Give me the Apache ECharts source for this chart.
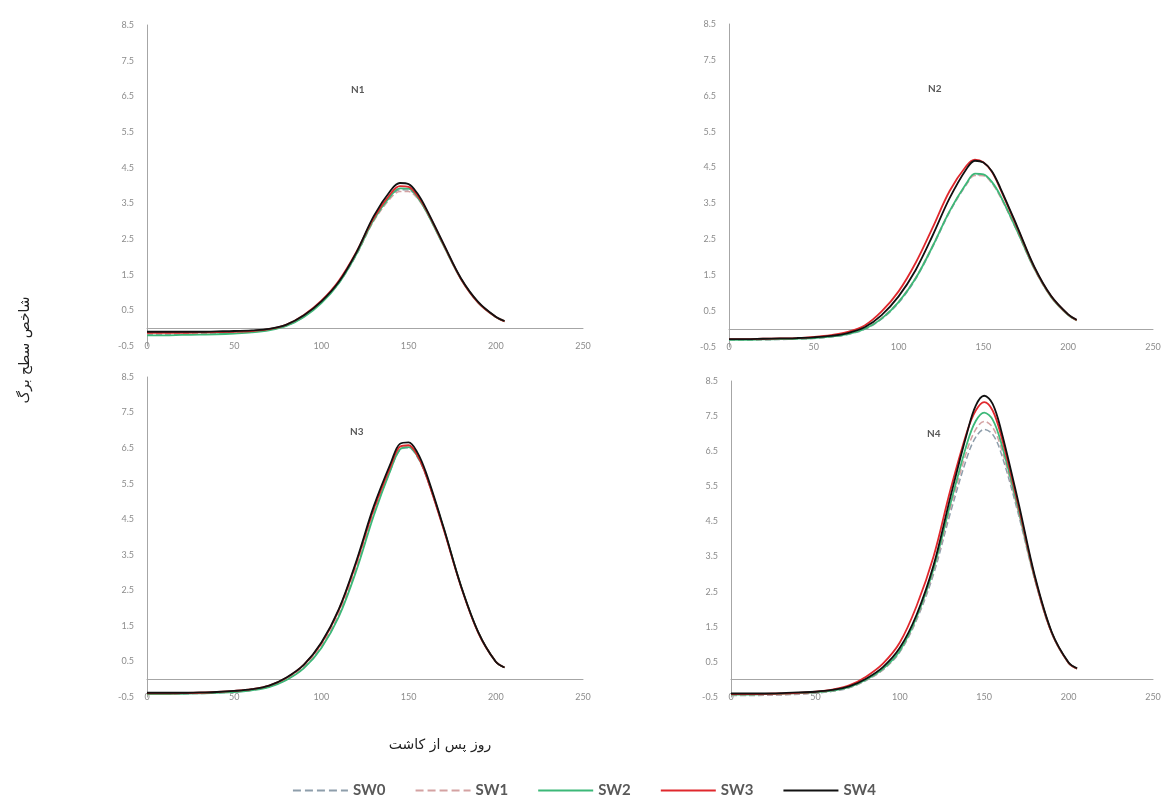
<!DOCTYPE html>
<html>
<head>
<meta charset="utf-8">
<script src="https://cdn.jsdelivr.net/npm/echarts@6/dist/echarts.min.js"></script>
<style>
html,body{margin:0;padding:0;background:#fff;}
#chart{width:1168px;height:810px;}
</style>
</head>
<body>
<div id="chart"></div>
<script>
// Days after sowing
const days = [0,10,20,30,40,50,60,70,80,90,100,110,120,130,140,145,150,155,160,170,180,190,200,205];
const seriesNames = ['SW0','SW1','SW2','SW3','SW4'];
const panelNames = ['N1','N2','N3','N4'];
const xTicks = [0,50,100,150,200,250];
const yTickLabels = ['-0.5','0.5','1.5','2.5','3.5','4.5','5.5','6.5','7.5','8.5'];

// N1
const N1_SW0 = [-0.17,-0.17,-0.17,-0.16,-0.15,-0.13,-0.10,-0.05,0.07,0.32,0.72,1.26,2.05,3.02,3.70,3.88,3.87,3.66,3.28,2.32,1.38,0.72,0.32,0.20];
const N1_SW1 = [-0.15,-0.15,-0.15,-0.14,-0.13,-0.12,-0.09,-0.04,0.08,0.34,0.74,1.29,2.07,3.00,3.66,3.83,3.83,3.64,3.28,2.34,1.40,0.73,0.33,0.21];
const N1_SW2 = [-0.20,-0.20,-0.19,-0.18,-0.17,-0.15,-0.12,-0.06,0.06,0.31,0.70,1.26,2.07,3.04,3.73,3.92,3.91,3.68,3.29,2.32,1.38,0.71,0.31,0.19];
const N1_SW3 = [-0.13,-0.13,-0.13,-0.12,-0.11,-0.10,-0.08,-0.03,0.10,0.37,0.77,1.33,2.13,3.09,3.79,3.98,3.96,3.72,3.33,2.35,1.38,0.71,0.31,0.19];
const N1_SW4 = [-0.10,-0.10,-0.10,-0.10,-0.09,-0.08,-0.06,-0.02,0.10,0.36,0.75,1.30,2.12,3.14,3.88,4.07,4.04,3.78,3.36,2.37,1.40,0.73,0.32,0.20];
// N2
const N2_SW0 = [-0.31,-0.31,-0.30,-0.29,-0.28,-0.26,-0.22,-0.15,-0.01,0.28,0.73,1.39,2.28,3.25,4.03,4.30,4.29,4.08,3.70,2.72,1.68,0.89,0.39,0.24];
const N2_SW1 = [-0.30,-0.30,-0.29,-0.28,-0.27,-0.25,-0.21,-0.13,0.01,0.31,0.77,1.43,2.32,3.28,4.03,4.28,4.27,4.06,3.68,2.71,1.68,0.89,0.39,0.24];
const N2_SW2 = [-0.30,-0.30,-0.29,-0.28,-0.27,-0.25,-0.21,-0.14,0.00,0.29,0.75,1.41,2.30,3.28,4.06,4.33,4.31,4.10,3.72,2.73,1.69,0.89,0.39,0.24];
const N2_SW3 = [-0.28,-0.28,-0.27,-0.26,-0.25,-0.22,-0.17,-0.08,0.10,0.49,1.05,1.84,2.82,3.84,4.55,4.72,4.65,4.38,3.90,2.82,1.72,0.91,0.40,0.25];
const N2_SW4 = [-0.28,-0.28,-0.27,-0.26,-0.25,-0.23,-0.19,-0.11,0.05,0.39,0.91,1.64,2.60,3.64,4.46,4.69,4.64,4.40,3.93,2.85,1.74,0.92,0.41,0.26];
// N3
const N3_SW0 = [-0.42,-0.42,-0.41,-0.40,-0.38,-0.36,-0.31,-0.21,-0.01,0.33,0.90,1.80,3.10,4.65,5.93,6.44,6.51,6.25,5.72,4.24,2.62,1.31,0.49,0.33];
const N3_SW1 = [-0.41,-0.41,-0.40,-0.39,-0.37,-0.35,-0.30,-0.20,0.00,0.35,0.93,1.84,3.15,4.70,5.98,6.49,6.56,6.30,5.75,4.26,2.63,1.32,0.50,0.34];
const N3_SW2 = [-0.42,-0.42,-0.41,-0.40,-0.38,-0.36,-0.31,-0.22,-0.02,0.31,0.88,1.76,3.05,4.60,5.93,6.46,6.53,6.28,5.75,4.26,2.63,1.31,0.49,0.33];
const N3_SW3 = [-0.40,-0.40,-0.39,-0.38,-0.36,-0.33,-0.28,-0.18,0.04,0.41,1.01,1.95,3.27,4.78,6.03,6.54,6.58,6.30,5.74,4.23,2.61,1.30,0.49,0.33];
const N3_SW4 = [-0.38,-0.38,-0.38,-0.37,-0.36,-0.33,-0.28,-0.18,0.05,0.41,1.03,1.97,3.32,4.86,6.11,6.62,6.66,6.38,5.81,4.28,2.63,1.32,0.49,0.33];
// N4
const N4_SW0 = [-0.46,-0.46,-0.45,-0.44,-0.42,-0.39,-0.34,-0.24,-0.03,0.27,0.78,1.70,3.00,4.75,6.35,6.90,7.12,6.98,6.45,4.75,2.83,1.31,0.47,0.31];
const N4_SW1 = [-0.45,-0.45,-0.44,-0.43,-0.41,-0.38,-0.33,-0.23,-0.02,0.28,0.80,1.74,3.08,4.88,6.55,7.12,7.35,7.18,6.60,4.82,2.85,1.32,0.47,0.31];
const N4_SW2 = [-0.43,-0.43,-0.42,-0.41,-0.39,-0.37,-0.32,-0.22,-0.01,0.30,0.82,1.78,3.15,5.00,6.75,7.36,7.60,7.40,6.75,4.90,2.88,1.33,0.47,0.31];
const N4_SW3 = [-0.42,-0.42,-0.41,-0.40,-0.38,-0.35,-0.29,-0.17,0.08,0.45,1.05,2.10,3.50,5.40,7.08,7.66,7.90,7.66,6.95,5.00,2.90,1.33,0.47,0.31];
const N4_SW4 = [-0.40,-0.40,-0.40,-0.39,-0.37,-0.35,-0.30,-0.20,0.02,0.35,0.90,1.85,3.25,5.20,7.05,7.80,8.08,7.85,7.10,5.10,2.95,1.35,0.48,0.32];

const panelData = [
  [N1_SW0,N1_SW1,N1_SW2,N1_SW3,N1_SW4],
  [N2_SW0,N2_SW1,N2_SW2,N2_SW3,N2_SW4],
  [N3_SW0,N3_SW1,N3_SW2,N3_SW3,N3_SW4],
  [N4_SW0,N4_SW1,N4_SW2,N4_SW3,N4_SW4]
];

const colors = ['#8e9eab','#d4a2a2','#3cb878','#e0282d','#111111'];
const dashes = ['dashed','dashed','solid','solid','solid'];

const grids = [
  {left:147, top:25, width:436, height:321},
  {left:729, top:24, width:424, height:323},
  {left:147, top:377, width:436, height:320},
  {left:731, top:381, width:422, height:316}
];
const titlePos = [[346,80],[923,79],[345,422],[922,424]];

const tickFont = 'Lato, "Open Sans", sans-serif';
const xAxes = [], yAxes = [], series = [], titles = [];
grids.forEach((g,i)=>{
  // label axis at bottom
  xAxes.push({type:'value', gridIndex:i, min:0, max:250, interval:50,
    axisLine:{show:false, onZero:false}, axisTick:{show:false}, splitLine:{show:false},
    axisLabel:{color:'#8c8c8c', fontSize:9, fontFamily:tickFont, margin:-4}});
  // line axis crossing at zero
  xAxes.push({type:'value', gridIndex:i, min:0, max:250, interval:50,
    axisLine:{show:true, onZero:true, lineStyle:{color:'#a6a6a6', width:1}},
    axisTick:{show:false}, axisLabel:{show:false}, splitLine:{show:false}});
  yAxes.push({type:'value', gridIndex:i, min:-0.5, max:8.5, interval:0.5,
    axisLine:{show:true, onZero:false, lineStyle:{color:'#a6a6a6', width:1}},
    axisTick:{show:false}, splitLine:{show:false},
    axisLabel:{color:'#8c8c8c', fontSize:9, fontFamily:tickFont, margin:13,
      formatter:v=>{const s=v.toFixed(1); return yTickLabels.indexOf(s)>=0?s:'';}}});
  titles.push({text:panelNames[i], left:titlePos[i][0], top:titlePos[i][1],
    textStyle:{fontSize:10, fontWeight:'bold', color:'#595959', fontFamily:tickFont}});
  seriesNames.forEach((nm,k)=>{
    series.push({name:nm, type:'line', xAxisIndex:i*2, yAxisIndex:i,
      data: days.map((d,j)=>[d, panelData[i][k][j]]),
      smooth:0.35, symbol:'none', silent:true,
      lineStyle:{color:colors[k], width:k<2?1.5:1.8, type:dashes[k]},
      itemStyle:{color:colors[k]}, z:2+k});
  });
});

const chart = echarts.init(document.getElementById('chart'), null, {renderer:'canvas'});
chart.setOption({
  animation:false,
  backgroundColor:'#fff',
  title:titles,
  grid:grids,
  xAxis:xAxes,
  yAxis:yAxes,
  legend:{data:seriesNames, bottom:7, left:'center', itemWidth:55, itemHeight:10, itemGap:29,
    itemStyle:{opacity:0},
    textStyle:{fontSize:15, fontWeight:'bold', color:'#595959', fontFamily:tickFont}},
  graphic:[
    {type:'text', x:440, y:745, style:{text:'روز پس از کاشت', font:'14px "DejaVu Sans"', fill:'#222', align:'center', verticalAlign:'middle'}},
    {type:'text', x:25, y:350, rotation:Math.PI/2, style:{text:'شاخص سطح برگ', font:'14px "DejaVu Sans"', fill:'#222', align:'center', verticalAlign:'middle'}}
  ],
  series:series
});
</script>
</body>
</html>
